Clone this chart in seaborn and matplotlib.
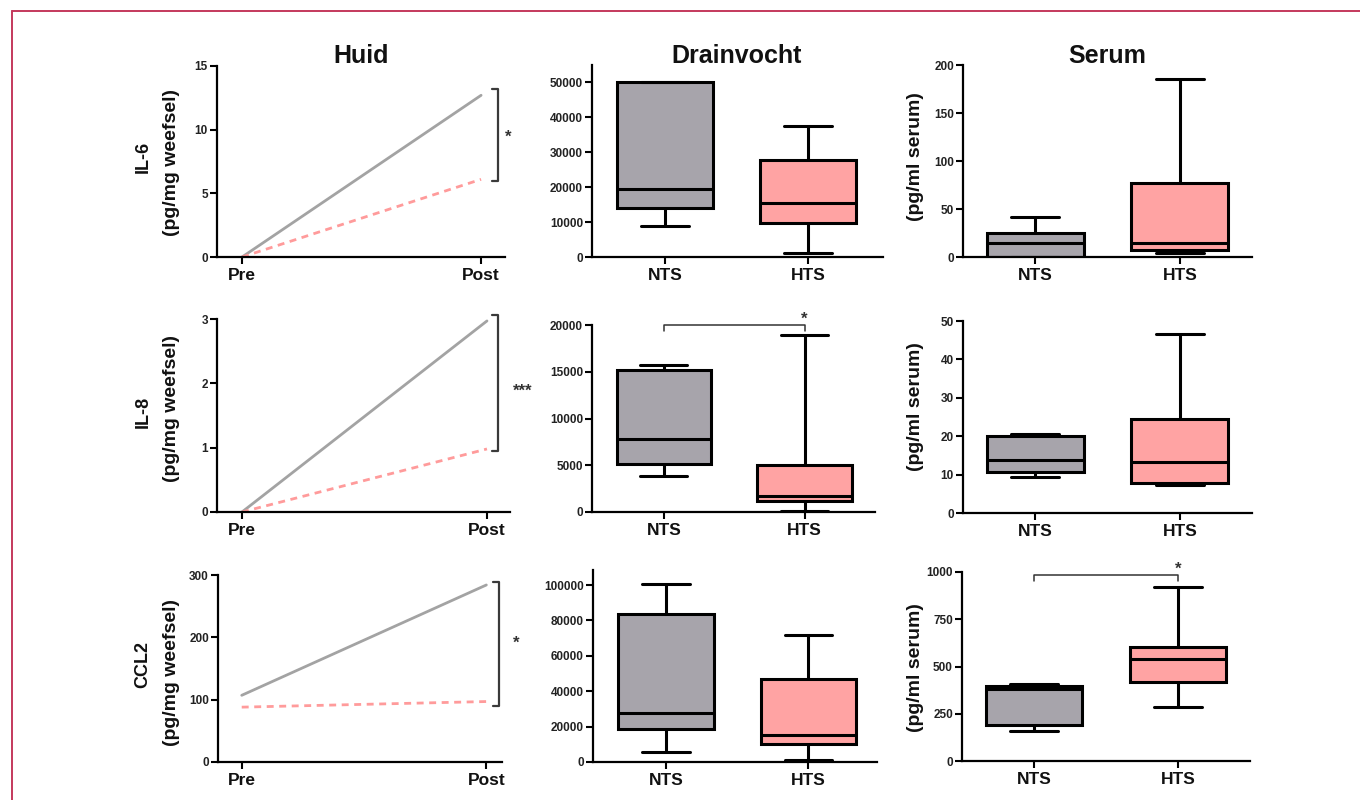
import numpy as np
import pandas as pd
import matplotlib
matplotlib.use("Agg")
import matplotlib.pyplot as plt
from matplotlib.lines import Line2D
import seaborn as sns

sns.set_theme(style="ticks")
plt.rcParams['font.family'] = ['Liberation Sans', 'DejaVu Sans']

# ---------------- data ----------------
groups = ["NTS", "HTS"]
timepoints = ["Pre", "Post"]
col_titles = ["Huid", "Drainvocht", "Serum"]
row_names = ["IL-6", "IL-8", "CCL2"]

# Huid: mean levels Pre -> Post
huid_il6_nts = [0.0, 12.7]
huid_il6_hts = [0.0, 6.1]
huid_il8_nts = [0.0, 2.97]
huid_il8_hts = [0.0, 0.98]
huid_ccl2_nts = [107.0, 284.0]
huid_ccl2_hts = [88.0, 97.0]

# Box plots: five-number summaries [min, Q1, median, Q3, max]
drain_il6_nts = [8900, 13900, 19400, 50000, 50000]
drain_il6_hts = [1200, 9800, 15300, 27700, 37600]
serum_il6_nts = [0, 0, 15, 24.5, 42]
serum_il6_hts = [4.5, 7, 15, 77, 185]

drain_il8_nts = [3900, 5100, 7850, 15150, 15700]
drain_il8_hts = [150, 1150, 1700, 5000, 18900]
serum_il8_nts = [9.4, 10.7, 13.9, 20.1, 20.5]
serum_il8_hts = [7.4, 7.8, 13.2, 24.6, 46.5]

drain_ccl2_nts = [5900, 18900, 27800, 83500, 100500]
drain_ccl2_hts = [1200, 10000, 15500, 46700, 71800]
serum_ccl2_nts = [158, 190, 380, 398, 407]
serum_ccl2_hts = [287, 419, 541, 604, 920]

GRAY = "#a7a4ab"
PINK = "#ffa3a3"
LGRAY = "#a3a3a3"
LPINK = "#ff9b9b"
palette = {"NTS": GRAY, "HTS": PINK}

fig = plt.figure(figsize=(13.6, 8), dpi=100)
W, H = 1360, 800


def ax_at(l, t, r, b):
    return fig.add_axes([l / W, 1 - b / H, (r - l) / W, (b - t) / H])


def style_axes(ax):
    for s in ["top", "right"]:
        ax.spines[s].set_visible(False)
    for s in ["left", "bottom"]:
        ax.spines[s].set_linewidth(1.6)
        ax.spines[s].set_color("black")
    ax.tick_params(axis="both", direction="out", length=5, width=1.5, color="black")
    ax.tick_params(axis="y", labelsize=8.5, pad=1.5, labelcolor="#222222")
    ax.tick_params(axis="x", labelsize=12.5, pad=3, labelcolor="#111111")
    for lab in ax.get_yticklabels():
        lab.set_fontweight("bold")
    for lab in ax.get_xticklabels():
        lab.set_fontweight("bold")
    ax.set_xlabel("")
    ax.set_ylabel("")
    ax.set_facecolor("white")


def huid_panel(pos, nts, hts, ylim, yticks, xlim, bracket, stars, star_xy):
    ax = ax_at(*pos)
    sns.lineplot(x=[0, 1], y=nts, color=LGRAY, linewidth=2.0, ax=ax)
    sns.lineplot(x=[0, 1], y=hts, color=LPINK, linewidth=2.0, ls=(0, (2.5, 2)), ax=ax)
    ax.set_xlim(*xlim)
    ax.set_ylim(*ylim)
    ax.set_yticks(yticks)
    ax.set_xticks([0, 1])
    ax.set_xticklabels(timepoints)
    bx, y0, y1 = bracket
    dx = 0.025
    ax.plot([bx - dx, bx, bx, bx - dx], [y1, y1, y0, y0], color="#3a3a3a",
            lw=1.6, clip_on=False)
    ax.text(star_xy[0], star_xy[1], stars, ha="center", va="center",
            fontsize=12, fontweight="bold", color="#333333", clip_on=False)
    style_axes(ax)
    return ax


def box_panel(pos, nts, hts, ylim, yticks, xlim, sig=None):
    ax = ax_at(*pos)
    df = pd.DataFrame({
        "group": ["NTS"] * len(nts) + ["HTS"] * len(hts),
        "value": list(nts) + list(hts),
    })
    sns.boxplot(data=df, x="group", y="value", hue="group", order=groups,
                hue_order=groups, palette=palette, width=0.67, whis=(0, 100),
                saturation=1, linecolor="black", linewidth=2.2, legend=False,
                ax=ax)
    ax.set_xlim(*xlim)
    ax.set_ylim(*ylim)
    ax.set_yticks(yticks)
    ax.set_yticklabels([str(int(v)) for v in yticks])
    if sig is not None:
        yline, ydrop, ystar = sig
        ax.plot([0, 0, 1, 1], [ydrop, yline, yline, ydrop], color="#333333",
                lw=1.1, clip_on=False)
        ax.text(1, ystar, "*", ha="center", va="center", fontsize=12,
                fontweight="bold", color="#333333", clip_on=False)
    style_axes(ax)
    return ax


# Row 1: IL-6
huid_panel((217, 66, 505, 257), huid_il6_nts, huid_il6_hts, (0, 15), [0, 5, 10, 15],
           (-0.105, 1.10), (1.071, 5.97, 13.2), "*", (1.113, 9.4))
box_panel((592, 65, 883, 257), drain_il6_nts, drain_il6_hts, (0, 54900),
          np.arange(0, 50001, 10000), (-0.51, 1.52))
box_panel((963, 65, 1252, 257), serum_il6_nts, serum_il6_hts, (0, 200),
          [0, 50, 100, 150, 200], (-0.5, 1.5))

# Row 2: IL-8
huid_panel((217, 319, 510, 512), huid_il8_nts, huid_il8_hts, (0, 3), [0, 1, 2, 3],
           (-0.102, 1.094), (1.045, 0.95, 3.06), "***", (1.147, 1.88))
box_panel((592, 325, 875, 512), drain_il8_nts, drain_il8_hts, (0, 20000),
          np.arange(0, 20001, 5000), (-0.51, 1.50), sig=(20000, 19400, 20600))
box_panel((963, 321, 1252, 513), serum_il8_nts, serum_il8_hts, (0, 50),
          [0, 10, 20, 30, 40, 50], (-0.5, 1.5))

# Row 3: CCL2
huid_panel((218, 575, 502, 762), huid_ccl2_nts, huid_ccl2_hts, (0, 300),
           [0, 100, 200, 300], (-0.097, 1.064), (1.051, 90, 289), "*", (1.123, 191))
box_panel((593, 570, 877, 762), drain_ccl2_nts, drain_ccl2_hts, (0, 108500),
          np.arange(0, 100001, 20000), (-0.51, 1.48))
box_panel((962, 572, 1250, 761), serum_ccl2_nts, serum_ccl2_hts, (0, 1000),
          [0, 250, 500, 750, 1000], (-0.5, 1.5), sig=(986, 952, 1012))

# Column titles
for title, xc in zip(col_titles, [361, 737, 1107]):
    fig.text(xc / W, 1 - 56 / H, title, ha="center", va="center",
             fontsize=18, fontweight="bold", color="#111111")

# Row labels (Huid column)
for name, yc1, yc2 in zip(row_names, [157, 412, 665], [163, 409, 673]):
    fig.text(143 / W, 1 - yc1 / H, name, ha="center", va="center", rotation=90,
             fontsize=13, fontweight="bold", color="#111111")
    fig.text(172 / W, 1 - yc2 / H, "(pg/mg weefsel)", ha="center", va="center",
             rotation=90, fontsize=14, fontweight="bold", color="#111111")

# Serum y labels
for yc in [157, 407, 668]:
    fig.text(915 / W, 1 - yc / H, "(pg/ml serum)", ha="center", va="center",
             rotation=90, fontsize=14, fontweight="bold", color="#111111")

# Frame lines (top and left)
BORDER = "#c4385c"
fig.add_artist(Line2D([12 / W, 1.0], [1 - 11 / H, 1 - 11 / H], color=BORDER,
                      lw=1.4, transform=fig.transFigure))
fig.add_artist(Line2D([12 / W, 12 / W], [1 - 11 / H, 0.0], color=BORDER,
                      lw=1.4, transform=fig.transFigure))

fig.savefig("out.png", dpi=100, facecolor="white")
